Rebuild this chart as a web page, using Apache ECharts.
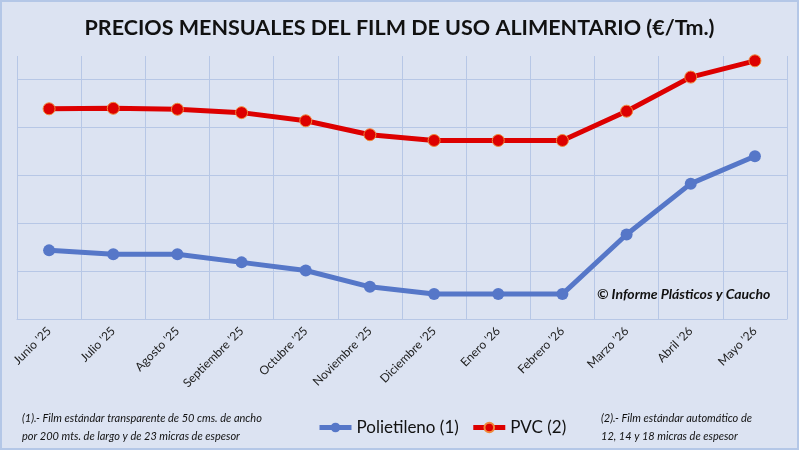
<!DOCTYPE html>
<html>
    <head>
        <meta charset="utf-8">
        <script src="https://cdn.jsdelivr.net/npm/echarts@6/dist/echarts.min.js"></script>
    </head>
    <body>
        <style>
            html, body { margin: 0; }
            #main { width: 799px; height: 450px; }
        </style>

        <div id="main"></div>

        <script>
            // months on the x axis
            var months = ["Junio '25", "Julio '25", "Agosto '25", "Septiembre '25", "Octubre '25", "Noviembre '25",
                "Diciembre '25", "Enero '26", "Febrero '26", "Marzo '26", "Abril '26", "Mayo '26"];
            // €/Tm. (read off the gridlines, no labels on the original)
            var polietileno = [1543, 1535, 1535, 1518, 1501, 1467, 1452, 1452, 1452, 1576, 1682, 1739];
            var pvc = [1838, 1839, 1837, 1830, 1813, 1784, 1772, 1772, 1772, 1833, 1904, 1938];

            var chart = echarts.init(document.getElementById('main'));
            var gridColor = '#b7c7e6';
            var font = 'Lato, "Open Sans", sans-serif';

            var option = {
                backgroundColor: '#dce3f2',
                animation: false,
                title: {
                    text: 'PRECIOS MENSUALES DEL FILM DE USO ALIMENTARIO (€/Tm.)',
                    left: 'center',
                    top: 12,
                    textStyle: {fontFamily: font, fontSize: 21.5, fontWeight: 'bold', color: '#111'}
                },
                grid: {left: 17, right: 12, top: 56, bottom: 131},
                legend: {
                    left: 312,
                    top: 414,
                    itemWidth: 32,
                    itemHeight: 12,
                    itemGap: 12,
                    lineStyle: {width: 5},
                    textStyle: {fontFamily: font, fontSize: 17, color: '#111'},
                    data: ['Polietileno (1)', 'PVC (2)']
                },
                xAxis: {
                    type: 'category',
                    data: months,
                    boundaryGap: true,
                    axisLine: {lineStyle: {color: gridColor}},
                    axisTick: {show: false},
                    splitLine: {show: true, interval: 0, lineStyle: {color: gridColor}},
                    axisLabel: {interval: 0, rotate: 45, margin: 10, fontFamily: font, fontSize: 12, color: '#222'}
                },
                yAxis: {
                    type: 'value',
                    min: 1400,
                    max: 1948,
                    interval: 100,
                    axisLabel: {show: false},
                    axisLine: {show: false},
                    axisTick: {show: false},
                    splitLine: {lineStyle: {color: [gridColor, gridColor, gridColor, gridColor, gridColor, gridColor, 'transparent']}}
                },
                graphic: [
                    {type: 'rect', shape: {x: 1, y: 1, width: 797, height: 448}, style: {fill: 'none', stroke: '#b4c7e7', lineWidth: 2}},
                    {type: 'text', left: 597, top: 287, style: {text: '© Informe Plásticos y Caucho', font: 'italic bold 14px ' + font, fill: '#111'}},
                    {type: 'text', left: 22, top: 409, style: {text: '(1).- Film estándar transparente de 50 cms. de ancho\npor 200 mts. de largo y de 23 micras de espesor', font: 'italic 11px ' + font, lineHeight: 18, fill: '#111'}},
                    {type: 'text', left: 601, top: 409, style: {text: '(2).- Film estándar automático de\n12, 14 y 18 micras de espesor', font: 'italic 11px ' + font, lineHeight: 18, fill: '#111'}}
                ],
                series: [
                    {
                        name: 'Polietileno (1)',
                        type: 'line',
                        data: polietileno,
                        symbol: 'circle',
                        symbolSize: 12,
                        lineStyle: {width: 5, color: '#5677c8'},
                        itemStyle: {color: '#5677c8'}
                    },
                    {
                        name: 'PVC (2)',
                        type: 'line',
                        data: pvc,
                        symbol: 'circle',
                        symbolSize: 12,
                        lineStyle: {width: 5, color: '#dd0000'},
                        itemStyle: {color: '#dd0000', borderColor: '#f08a3c', borderWidth: 1}
                    }
                ]
            };

            chart.setOption(option);
        </script>
    </body>
</html>
